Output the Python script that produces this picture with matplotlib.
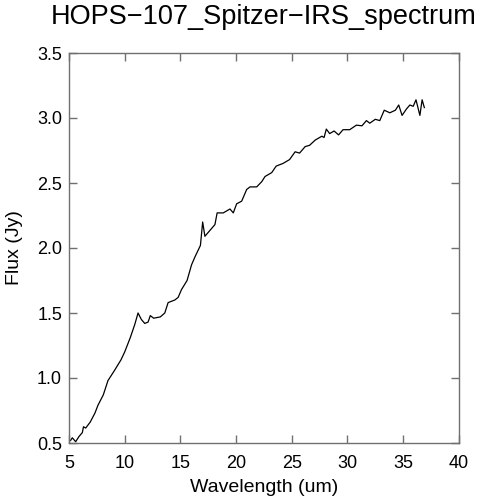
import matplotlib
matplotlib.use('Agg')
import matplotlib.pyplot as plt

plt.rcParams['font.family'] = ['Liberation Sans', 'DejaVu Sans']

# spectrum (wavelength in um, flux in Jy)
wavelength = [5.15, 5.3, 5.6, 5.9, 6.2, 6.3, 6.5, 6.9, 7.33, 7.6, 8.08, 8.5,
              9.1, 9.67, 10.0, 10.5, 10.9, 11.2, 11.5, 11.8, 12.1, 12.3, 12.6,
              13.2, 13.6, 13.9, 14.5, 14.8, 15.1, 15.6, 16.0, 16.3, 16.8, 17.0,
              17.2, 17.7, 18.1, 18.3, 18.85, 19.45, 19.75, 20.05, 20.5, 20.95,
              21.25, 21.85, 22.3, 22.6, 23.2, 23.6, 24.2, 24.8, 25.3, 25.7,
              26.2, 26.6, 27.1, 27.7, 27.9, 28.1, 28.4, 28.8, 29.2, 29.6, 30.2,
              30.8, 31.3, 31.7, 32.0, 32.5, 32.9, 33.3, 33.8, 34.3, 34.6, 34.9,
              35.3, 35.6, 35.9, 36.15, 36.5, 36.7, 36.9]
flux = [0.52, 0.54, 0.51, 0.55, 0.58, 0.625, 0.615, 0.66, 0.73, 0.79, 0.87,
        0.98, 1.06, 1.14, 1.2, 1.31, 1.41, 1.50, 1.45, 1.42, 1.43, 1.48, 1.46,
        1.47, 1.50, 1.58, 1.60, 1.62, 1.68, 1.75, 1.87, 1.93, 2.02, 2.20,
        2.09, 2.14, 2.18, 2.27, 2.27, 2.30, 2.27, 2.34, 2.36, 2.45,
        2.47, 2.47, 2.51, 2.55, 2.58, 2.63, 2.65, 2.68, 2.74, 2.73,
        2.78, 2.79, 2.83, 2.86, 2.85, 2.915, 2.88, 2.90, 2.87, 2.91, 2.91,
        2.945, 2.94, 2.98, 2.96, 2.99, 2.98, 3.06, 3.04, 3.06, 3.10, 3.02,
        3.07, 3.10, 3.09, 3.14, 3.02, 3.14, 3.08]

xticks = [5, 10, 15, 20, 25, 30, 35, 40]
yticks = [0.5, 1.0, 1.5, 2.0, 2.5, 3.0, 3.5]

fig = plt.figure(figsize=(4.79, 5.0), dpi=100)
ax = fig.add_axes([0.144, 0.114, 0.814, 0.78])

ax.plot(wavelength, flux, color='black', linewidth=0.9)

ax.set_xlim(5, 40)
ax.set_ylim(0.5, 3.5)
ax.set_xticks(xticks)
ax.set_xticklabels([str(t) for t in xticks])
ax.set_yticks(yticks)
ax.set_yticklabels(['%.1f' % t for t in yticks])

for s in ax.spines.values():
    s.set_color('#707070')
    s.set_linewidth(1.0)
ax.tick_params(direction='in', length=6, width=1.0, color='#707070',
               top=True, right=True, labelsize=13)
ax.tick_params(axis='x', pad=9)
ax.tick_params(axis='y', pad=5)

ax.set_xlabel('Wavelength (um)', fontsize=14, labelpad=5)
ax.set_ylabel('Flux (Jy)', fontsize=14, labelpad=10)
ax.set_title('HOPS\u2212107_Spitzer\u2212IRS_spectrum', fontsize=19.5, pad=21)

fig.savefig('out.png', dpi=100, facecolor='white')
